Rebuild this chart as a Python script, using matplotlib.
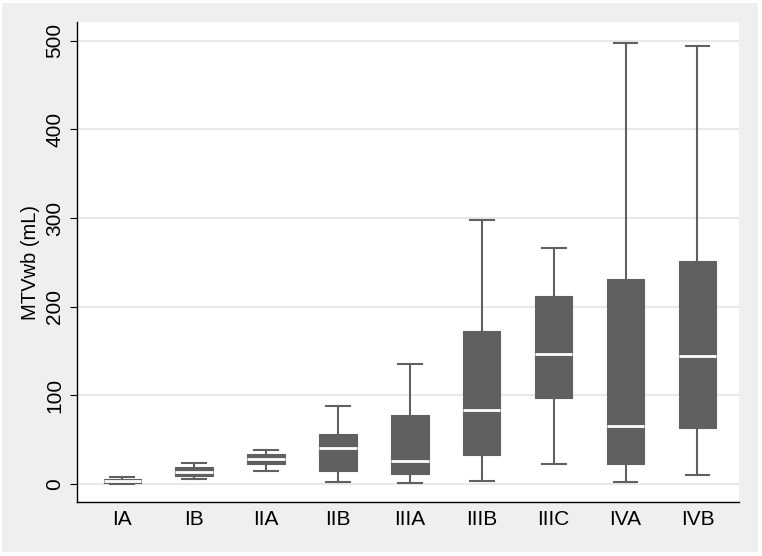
#!/usr/bin/env python3
"""
Box plot of whole-body MTV by stage
"""

import matplotlib
matplotlib.use("Agg")
import matplotlib.pyplot as plt
from matplotlib.patches import Rectangle

plt.rcParams['font.family'] = ['Liberation Sans', 'DejaVu Sans']

# values
stages = ['IA', 'IB', 'IIA', 'IIB', 'IIIA', 'IIIB', 'IIIC', 'IVA', 'IVB']
whislo = [0.3, 5.3, 15.0, 2.3, 0.8, 3.4, 22.2, 1.9, 10.0]
q1 = [0.8, 8.7, 22.6, 14.3, 11.3, 32.7, 97.4, 22.2, 63.5]
med = [3.0, 13.5, 28.0, 41.0, 26.3, 83.0, 146.4, 65.5, 145.0]
q3 = [5.3, 19.0, 33.5, 56.8, 77.5, 173.0, 212.0, 231.0, 252.0]
whishi = [8.2, 24.0, 38.0, 88.0, 135.8, 298.0, 266.0, 498.0, 494.0]
yticks = [0, 100, 200, 300, 400, 500]

box_color = '#606060'
bg_color = '#EFEFEF'


def main():
    fig = plt.figure(figsize=(7.62, 5.56), dpi=100)
    fig.patch.set_facecolor('white')
    # grey outer region with a thin white frame
    fig.patches.append(Rectangle((0.003, 0.007), 0.992, 0.987, transform=fig.transFigure,
                                 facecolor=bg_color, edgecolor='none', zorder=-10))

    ax = fig.add_axes([0.101, 0.097, 0.869, 0.863])
    ax.set_facecolor('white')

    stats = []
    for i, name in enumerate(stages):
        stats.append(dict(label=name, whislo=whislo[i], q1=q1[i], med=med[i],
                          q3=q3[i], whishi=whishi[i], fliers=[]))

    ax.bxp(stats, positions=range(1, len(stages) + 1), widths=0.52,
           patch_artist=True, showfliers=False,
           boxprops=dict(facecolor=box_color, edgecolor=box_color, linewidth=0.8),
           medianprops=dict(color='white', linewidth=2),
           whiskerprops=dict(color=box_color, linewidth=1.5),
           capprops=dict(color=box_color, linewidth=1.5),
           capwidths=0.33, zorder=3)

    ax.set_xlim(0.37, 9.58)
    ax.set_ylim(-20.3, 521)
    ax.set_yticks(yticks)
    ax.set_yticklabels([str(v) for v in yticks], rotation=90, va='center')
    ax.grid(axis='y', color='#E4E4E4', linewidth=1.2, zorder=0)
    ax.set_axisbelow(True)

    for side in ['top', 'right']:
        ax.spines[side].set_visible(False)
    for side in ['left', 'bottom']:
        ax.spines[side].set_color('black')
        ax.spines[side].set_linewidth(1.0)

    ax.tick_params(axis='y', direction='out', length=5, width=0.8, labelsize=15, pad=4)
    ax.tick_params(axis='x', length=0, labelsize=15, pad=6)
    ax.set_ylabel('MTVwb (mL)', fontsize=14.5, labelpad=4)

    fig.savefig('out.png', dpi=100, facecolor=fig.get_facecolor())


if __name__ == "__main__":
    main()
